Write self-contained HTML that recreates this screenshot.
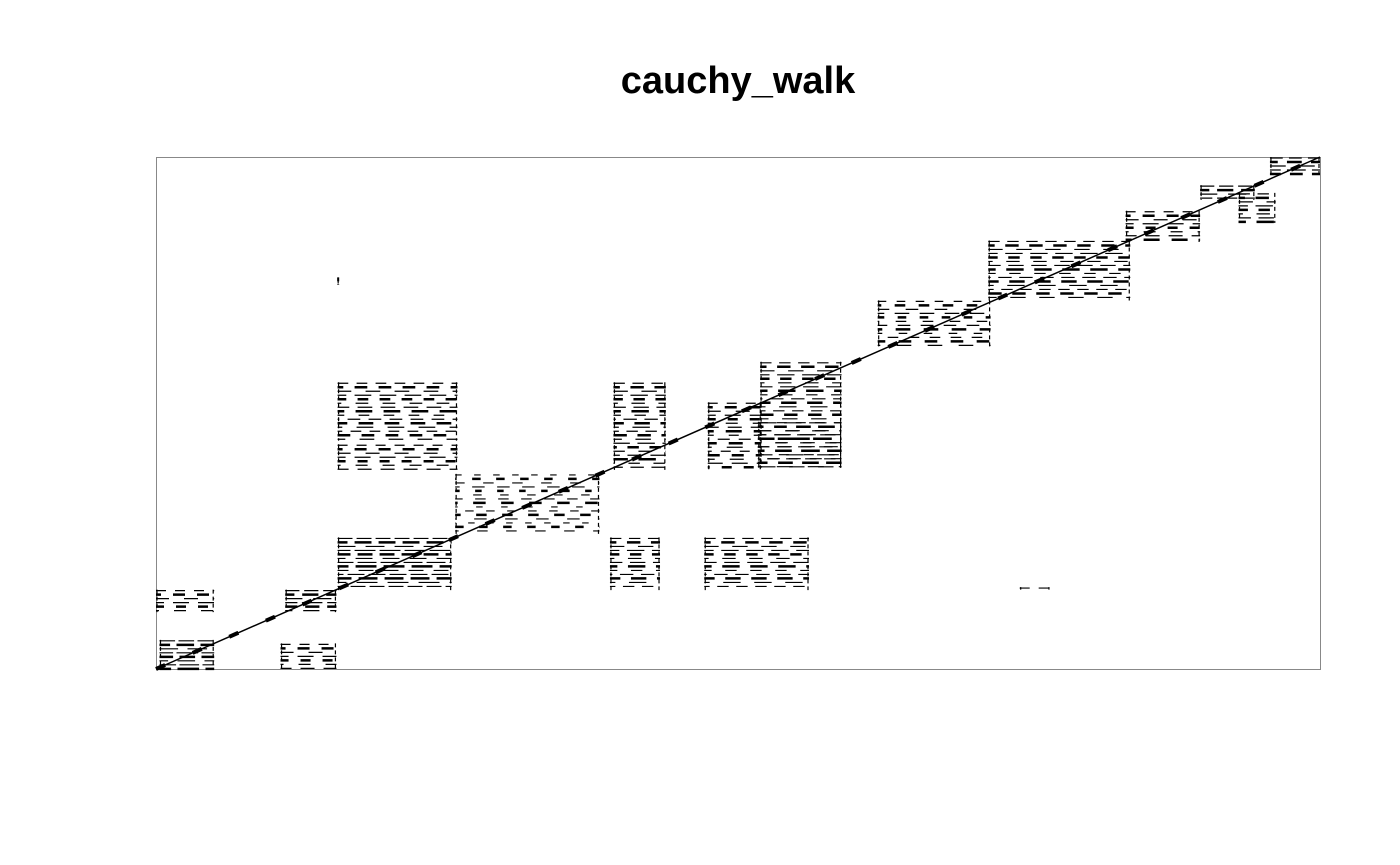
<!DOCTYPE html>
<html><head><meta charset="utf-8"><style>
html,body{margin:0;padding:0;background:#fff;}
svg{display:block;}
</style></head><body>
<svg id="chart" width="1400" height="865" viewBox="0 0 1400 865" xmlns="http://www.w3.org/2000/svg">
<text x="738" y="93" text-anchor="middle" font-family="Liberation Sans, sans-serif" font-weight="bold" font-size="38">cauchy_walk</text>
<rect x="156.5" y="157.5" width="1164" height="512" fill="none" stroke="#888" stroke-width="1"/>
<g id="marks"></g>
</svg>
<script>
// Recurrence blocks in index units (0..1000 on each axis): [x0, x1, y0, y1]
const blockX0 = [3, 107, 0, 111, 156, 390, 471, 156, 156, 393, 474, 517, 519, 257, 620, 715, 833, 930, 897, 957, 742, 156];
const blockX1 = [50, 155, 50, 155, 254, 433, 561, 259, 259, 438, 520, 589, 589, 381, 717, 837, 897, 962, 944, 1000, 768, 157];
const blockY0 = [0, 0, 111, 111, 154, 154, 154, 389, 446, 389, 389, 389, 393, 262, 625, 719, 834, 871, 916, 965, 155, 750];
const blockY1 = [57, 50, 155, 155, 257, 257, 257, 439, 560, 560, 521, 483, 600, 381, 720, 837, 895, 930, 945, 1000, 160, 765];
const blockDensity = [0.9, 0.5, 0.5, 0.8, 0.85, 0.6, 0.6, 0.5, 0.55, 0.6, 0.5, 0.5, 0.6, 0.25, 0.4, 0.6, 0.5, 0.6, 0.8, 0.7, 0.5, 0.8];
const diagX = [0, 1000];
const diagY = [0, 1000];

const L = 156, T = 157, W = 1164, H = 512;
function sx(v){ return L + v / 1000 * W; }
function sy(v){ return T + H - v / 1000 * H; }
const NS = 'http://www.w3.org/2000/svg';
const g = document.getElementById('marks');

for (let b = 0; b < blockX0.length; b++) {
  const x0 = sx(blockX0[b]), x1 = sx(blockX1[b]);
  const y0 = sy(blockY1[b]), y1 = sy(blockY0[b]);
  const d = blockDensity[b];
  const grp = document.createElementNS(NS, 'g');
  
  
  let row = 0;
  for (let y = y0 + 1; y <= y1; y += 4, row++) {
    const ln = document.createElementNS(NS, 'line');
    ln.setAttribute('x1', x0); ln.setAttribute('x2', x1);
    ln.setAttribute('y1', y); ln.setAttribute('y2', y);
    ln.setAttribute('stroke', '#000');
    ln.setAttribute('stroke-width', row % 3 === 1 ? 2.5 : 1.2);
    const on = 3 + 14 * d + (row % 4) * 2, off = 2 + 14 * (1 - d) + (row % 3) * 3;
    ln.setAttribute('stroke-dasharray', on + ' ' + off);
    ln.setAttribute('stroke-dashoffset', (row * 7) % 13);
    grp.appendChild(ln);
  }
  [x0, x1].forEach(function(x, k){
    const v = document.createElementNS(NS, 'line');
    v.setAttribute('x1', x + (k ? -1 : 1)); v.setAttribute('x2', x + (k ? -1 : 1));
    v.setAttribute('y1', y0); v.setAttribute('y2', y1);
    v.setAttribute('stroke', '#000'); v.setAttribute('stroke-width', 1.2);
    v.setAttribute('stroke-dasharray', '4 3');
    grp.appendChild(v);
  });
  g.appendChild(grp);
}

const diag = document.createElementNS(NS, 'line');


diag.setAttribute('x1', sx(diagX[0])); diag.setAttribute('y1', sy(diagY[0]));
diag.setAttribute('x2', sx(diagX[1])); diag.setAttribute('y2', sy(diagY[1]));
diag.setAttribute('stroke', '#000'); diag.setAttribute('stroke-width', 1.5);
g.appendChild(diag);
const diag2 = document.createElementNS(NS, 'line');


diag2.setAttribute('x1', sx(diagX[0])); diag2.setAttribute('y1', sy(diagY[0]));
diag2.setAttribute('x2', sx(diagX[1])); diag2.setAttribute('y2', sy(diagY[1]));
diag2.setAttribute('stroke', '#000'); diag2.setAttribute('stroke-width', 4);
diag2.setAttribute('stroke-dasharray', '10 30');
g.appendChild(diag2);
</script>
</body></html>
